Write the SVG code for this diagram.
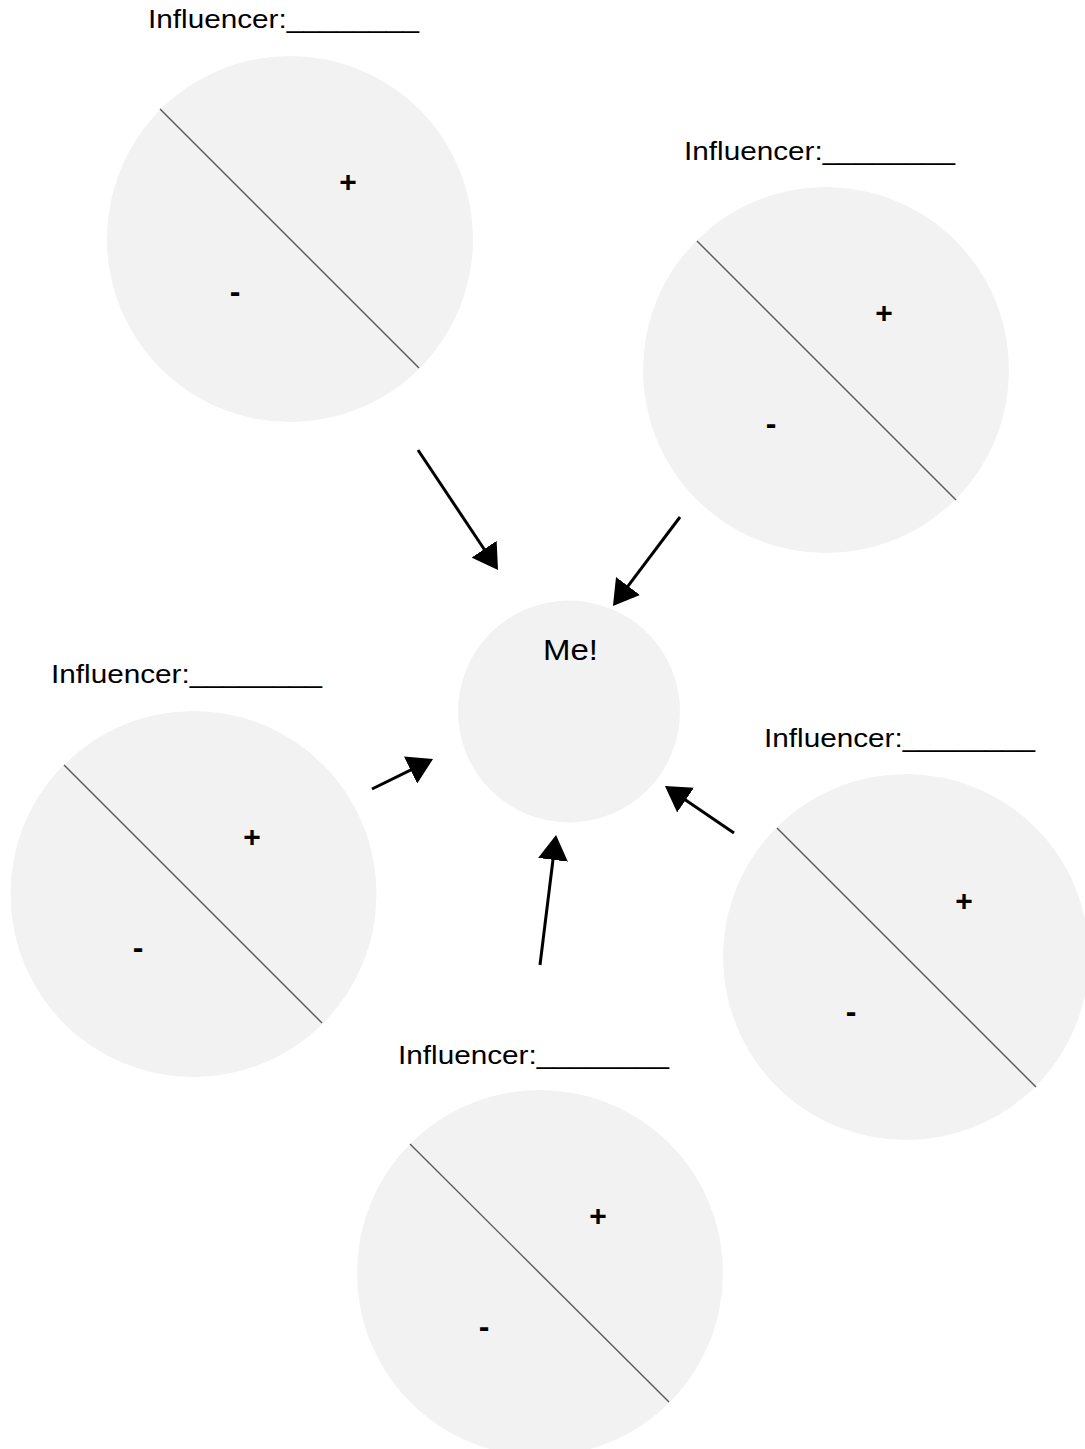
<svg xmlns="http://www.w3.org/2000/svg" width="1085" height="1449" viewBox="0 0 1085 1449">
<style>
.bg{fill:#ffffff}
.disc{fill:#f2f2f2;stroke:none}
.div{stroke:#595959;stroke-width:1.4;fill:none}
.lbl{font-family:"Liberation Sans",Arial,sans-serif;font-size:25px;fill:#000}
.pm{font-family:"Liberation Sans",Arial,sans-serif;font-weight:bold;fill:#000;text-anchor:middle}
.me{font-family:"Liberation Sans",Arial,sans-serif;font-size:30px;fill:#000;text-anchor:middle}
.arr{stroke:#000;stroke-width:3;fill:none;marker-end:url(#ah)}
</style>
<defs>
<marker id="ah" markerUnits="userSpaceOnUse" viewBox="0 0 26 30" markerWidth="26" markerHeight="30" refX="1" refY="15" orient="auto">
<path d="M0,0 L25,15 L0,30 z" fill="#000"/>
</marker>
</defs>
<rect class="bg" x="0" y="0" width="1085" height="1449"/>

<g id="influencer-1">
<text class="lbl" x="148" y="28" textLength="271" lengthAdjust="spacingAndGlyphs">Influencer:________</text>
<circle class="disc" cx="290" cy="239" r="183"/>
<line class="div" x1="160" y1="109" x2="419" y2="368"/>
<text class="pm" x="348" y="191.5" font-size="30">+</text>
<text class="pm" x="235" y="302" font-size="32">-</text>
</g>

<g id="influencer-2">
<text class="lbl" x="684" y="159.5" textLength="271" lengthAdjust="spacingAndGlyphs">Influencer:________</text>
<circle class="disc" cx="826" cy="370" r="183"/>
<line class="div" x1="697" y1="241" x2="956" y2="500"/>
<text class="pm" x="884" y="323" font-size="30">+</text>
<text class="pm" x="771" y="434" font-size="32">-</text>
</g>

<g id="influencer-3">
<text class="lbl" x="51" y="683" textLength="271" lengthAdjust="spacingAndGlyphs">Influencer:________</text>
<circle class="disc" cx="193.5" cy="894" r="183"/>
<line class="div" x1="64" y1="765" x2="322" y2="1023"/>
<text class="pm" x="252" y="846.5" font-size="30">+</text>
<text class="pm" x="138" y="958" font-size="32">-</text>
</g>

<g id="influencer-4">
<text class="lbl" x="764" y="747" textLength="271" lengthAdjust="spacingAndGlyphs">Influencer:________</text>
<circle class="disc" cx="906" cy="957" r="183"/>
<line class="div" x1="777" y1="828" x2="1036" y2="1087"/>
<text class="pm" x="964" y="910.5" font-size="30">+</text>
<text class="pm" x="851" y="1022" font-size="32">-</text>
</g>

<g id="influencer-5">
<text class="lbl" x="398" y="1064" textLength="271" lengthAdjust="spacingAndGlyphs">Influencer:________</text>
<circle class="disc" cx="540" cy="1273" r="183"/>
<line class="div" x1="410" y1="1144" x2="669" y2="1402"/>
<text class="pm" x="598" y="1226" font-size="30">+</text>
<text class="pm" x="484" y="1337" font-size="32">-</text>
</g>

<g id="me">
<circle class="disc" cx="569" cy="711.5" r="111"/>
<text class="me" x="570.5" y="660" textLength="55" lengthAdjust="spacingAndGlyphs">Me!</text>
</g>

<g id="connectors">
<line class="arr" x1="418" y1="450" x2="484.7" y2="550"/>
<line class="arr" x1="680" y1="517" x2="627.4" y2="586.8"/>
<line class="arr" x1="372" y1="789" x2="411.5" y2="769.6"/>
<line class="arr" x1="734" y1="833" x2="684.8" y2="799.5"/>
<line class="arr" x1="540" y1="965" x2="553.1" y2="858.8"/>
</g>
</svg>
